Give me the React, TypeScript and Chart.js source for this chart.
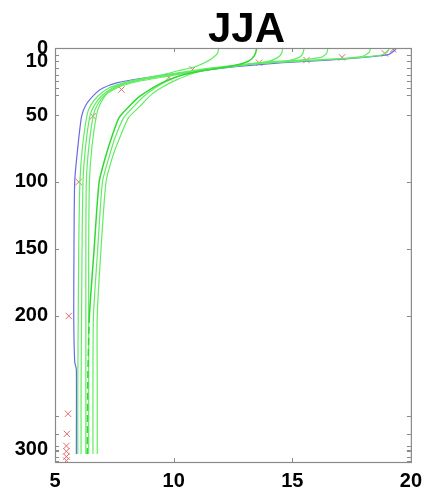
import React, { useEffect, useRef } from "react";
import { Chart, registerables } from "chart.js";

Chart.register(...registerables);

// Axis ticks
const xTickValues = [5, 10, 15, 20];
const yTickLabels = [0, 10, 50, 100, 150, 200, 300];
const yMinorTicks = [5, 15, 20, 25, 30, 35, 275, 288, 297, 301, 305, 308];

// Observations (red crosses)
const obsDepth = [1, 4, 7, 9, 11, 16, 22, 31, 51, 100, 200, 273, 288, 297, 301, 305, 308];
const obsTemp = [19.25, 18.9, 17.1, 15.6, 13.6, 10.8, 9.8, 7.8, 6.6, 6.0, 5.58, 5.55, 5.5, 5.48, 5.48, 5.48, 5.48];

// Blue profile
const blueDepth = [0, 2, 5, 7, 9, 11, 14, 18, 22, 26, 30, 34, 42, 51, 76, 100, 150, 200, 234, 240, 303];
const blueTemp = [19.4, 19.3, 19.05, 18.0, 16.5, 14.6, 12.6, 10.6, 8.9, 7.6, 7.0, 6.7, 6.32, 6.12, 5.95, 5.83, 5.8, 5.79, 5.83, 5.9, 5.9];

// Green profiles
const g1Depth = [0, 4, 8, 11, 14, 17, 20, 23, 26, 30, 36, 43, 50, 75, 100, 150, 200, 250, 303];
const g1Temp = [11.9, 11.85, 11.6, 11.3, 10.9, 10.2, 9.5, 8.6, 7.9, 7.25, 6.8, 6.5, 6.35, 6.15, 6.05, 6.0, 5.98, 5.96, 5.96];

const g2Depth = [0, 4, 8, 11, 14, 17, 21, 26, 31, 37, 44, 52, 66, 80, 100, 150, 200, 250, 303];
const g2Temp = [13.5, 13.45, 13.3, 13.0, 12.3, 11.2, 10.2, 9.5, 9.0, 8.5, 8.1, 7.7, 7.4, 7.15, 6.86, 6.65, 6.45, 6.38, 6.36];

const g3Depth = [0, 4, 7, 10, 12.5, 15, 17.5, 20, 23, 26, 30, 36, 43, 50, 75, 100, 150, 200, 250, 303];
const g3Temp = [14.6, 14.55, 14.4, 14.0, 13.0, 11.9, 10.8, 9.9, 8.8, 8.0, 7.4, 6.95, 6.65, 6.48, 6.28, 6.18, 6.14, 6.12, 6.1, 6.1];

const g4Depth = [0, 4, 7, 9.5, 11.5, 14, 16.5, 20, 25, 30, 36, 44, 52, 66, 80, 100, 150, 200, 250, 303];
const g4Temp = [15.5, 15.45, 15.3, 14.8, 13.5, 12.4, 11.3, 10.4, 9.7, 9.2, 8.75, 8.3, 7.9, 7.55, 7.3, 7.0, 6.8, 6.62, 6.6, 6.6];

const g5Depth = [0, 4, 7, 9, 10.5, 12.5, 15, 18, 21, 25, 29, 35, 42, 50, 75, 100, 150, 200, 250, 303];
const g5Temp = [16.5, 16.45, 16.2, 15.3, 14.0, 12.8, 11.5, 10.4, 9.4, 8.3, 7.6, 7.1, 6.8, 6.62, 6.42, 6.32, 6.3, 6.3, 6.3, 6.3];

const g6Depth = [0, 3, 6, 8, 9.5, 11, 13, 15.5, 19, 24, 29, 35, 44, 52, 66, 80, 100, 150, 200, 250, 303];
const g6Temp = [18.3, 18.25, 18.0, 17.0, 15.5, 14.0, 12.7, 11.7, 10.8, 10.1, 9.55, 9.05, 8.55, 8.1, 7.75, 7.45, 7.15, 6.94, 6.78, 6.78, 6.78];

const g7Depth = [0, 3, 5.5, 7.5, 9, 10.5, 12.5, 15, 18, 21.5, 25, 29, 34, 42, 50, 75, 100, 150, 200, 250, 303];
const g7Temp = [19.1, 19.0, 18.7, 17.5, 16.0, 14.5, 13.0, 11.9, 10.8, 9.6, 8.5, 7.7, 7.2, 6.9, 6.75, 6.55, 6.45, 6.42, 6.42, 6.42, 6.42];

const toPoints = (t: number[], d: number[]) => t.map((v, i) => ({ x: v, y: d[i] }));

const FONT = "'Liberation Sans', Arial, sans-serif";

const framePlugin = {
  id: "framePlugin",
  afterDatasetsDraw(chart: any) {
    const { ctx, chartArea } = chart;
    const xs = chart.scales.x;
    const ys = chart.scales.y;
    const { left, right, top, bottom } = chartArea;
    ctx.save();
    ctx.strokeStyle = "#8a8a8a";
    ctx.lineWidth = 1.2;
    ctx.strokeRect(left + 0.5, top + 0.5, right - left, bottom - top);
    ctx.lineWidth = 1;
    ctx.beginPath();
    const tl = 4;
    xTickValues.forEach((v) => {
      const px = Math.round(xs.getPixelForValue(v)) + 0.5;
      ctx.moveTo(px, bottom);
      ctx.lineTo(px, bottom - tl);
      ctx.moveTo(px, top);
      ctx.lineTo(px, top + tl);
    });
    yTickLabels.concat(yMinorTicks).forEach((v) => {
      const py = Math.round(ys.getPixelForValue(v)) + 0.5;
      ctx.moveTo(left, py);
      ctx.lineTo(left + tl, py);
      ctx.moveTo(right, py);
      ctx.lineTo(right - tl, py);
    });
    ctx.stroke();
    ctx.restore();
  },
  afterDraw(chart: any) {
    const { ctx } = chart;
    ctx.save();
    ctx.fillStyle = "#000";
    ctx.font = `bold 42px ${FONT}`;
    ctx.textAlign = "center";
    ctx.textBaseline = "alphabetic";
    ctx.fillText("JJA", 246.5, 42);
    ctx.restore();
  },
};

export default function App() {
  const ref = useRef<HTMLCanvasElement | null>(null);

  useEffect(() => {
    if (!ref.current) return;
    const lightGreen = "#62ec62";
    const green = "#33d833";
    const lineDs = (label: string, t: number[], d: number[], color: string, width = 1.2, extra: any = {}) => ({
      label,
      data: toPoints(t, d),
      showLine: true,
      borderColor: color,
      backgroundColor: color,
      borderWidth: width,
      pointRadius: 0,
      tension: 0.2,
      ...extra,
    });
    const chart = new Chart(ref.current, {
      type: "scatter",
      data: {
        datasets: [
          lineDs("g1", g1Temp, g1Depth, lightGreen),
          lineDs("g2", g2Temp, g2Depth, green, 1.5, {
            segment: { borderDash: (c: any) => (c.p0.parsed.y >= 200 ? [7, 4] : undefined) },
          }),
          lineDs("g3", g3Temp, g3Depth, lightGreen),
          lineDs("g4", g4Temp, g4Depth, lightGreen),
          lineDs("g5", g5Temp, g5Depth, lightGreen),
          lineDs("g6", g6Temp, g6Depth, lightGreen),
          lineDs("g7", g7Temp, g7Depth, lightGreen),
          lineDs("blue", blueTemp, blueDepth, "#6a6ae6", 1.2),
          {
            label: "obs",
            data: toPoints(obsTemp, obsDepth),
            showLine: false,
            pointStyle: "crossRot",
            pointRadius: 4.5,
            borderColor: "#e26a6a",
            backgroundColor: "#e26a6a",
            borderWidth: 1,
          },
        ],
      },
      options: {
        responsive: false,
        animation: false,
        events: [],
        layout: { padding: { top: 48, right: 11, left: 0, bottom: 0 } },
        plugins: {
          legend: { display: false },
          tooltip: { enabled: false },
          title: { display: false },
        },
        scales: {
          x: {
            type: "linear",
            min: 5,
            max: 20,
            afterBuildTicks: (s: any) => {
              s.ticks = xTickValues.map((v) => ({ value: v }));
            },
            ticks: {
              autoSkip: false,
              color: "#000",
              font: { size: 20, weight: "bold", family: FONT },
              padding: 7,
            },
            grid: { display: false, drawTicks: false },
            border: { display: false },
            afterFit: (s: any) => {
              s.height = 28;
            },
          },
          y: {
            type: "linear",
            reverse: true,
            min: 0,
            max: 309,
            afterBuildTicks: (s: any) => {
              s.ticks = yTickLabels.map((v) => ({ value: v }));
            },
            ticks: {
              autoSkip: false,
              color: "#000",
              font: { size: 20, weight: "bold", family: FONT },
              padding: 7,
            },
            grid: { display: false, drawTicks: false },
            border: { display: false },
            afterFit: (s: any) => {
              s.width = 55;
            },
          },
        },
      },
      plugins: [framePlugin],
    } as any);
    return () => chart.destroy();
  }, []);

  return (
    <div style={{ position: "fixed", left: 0, top: 0, width: 429, height: 490, background: "#fff" }}>
      <canvas ref={ref} width={429} height={490} style={{ display: "block", width: 429, height: 490 }} />
    </div>
  );
}
